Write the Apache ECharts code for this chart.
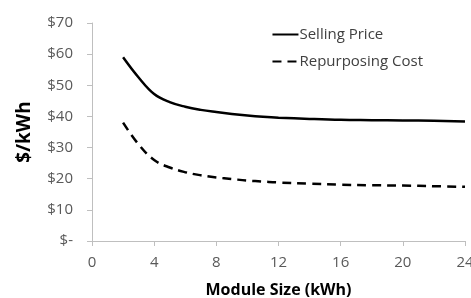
<!DOCTYPE html>
<html><head><meta charset="utf-8">
<script src="https://cdn.jsdelivr.net/npm/echarts@6/dist/echarts.min.js"></script>
<style>html,body{margin:0;padding:0;background:#fff}#c{width:471px;height:298px}</style>
</head><body><div id="c"></div>
<script>
var moduleSize = [2,3,4,5,6,7,8,9,10,11,12,14,16,18,20,22,24];
var sellingPrice = [59,52.5,47.2,44.6,43.1,42.1,41.4,40.8,40.3,39.9,39.6,39.2,38.9,38.8,38.7,38.6,38.4];
var repurposingCost = [38,31,26,23.6,22.1,21.1,20.4,19.9,19.4,19.1,18.8,18.4,18.1,17.9,17.8,17.6,17.4];
var yTicks = [0,10,20,30,40,50,60,70];
var xTicks = [0,4,8,12,16,20,24];

var font = 'Open Sans';
var chart = echarts.init(document.getElementById('c'));
chart.setOption({
  animation:false,
  backgroundColor:'#fff',
  grid:{left:92,right:6,top:23,bottom:57,containLabel:false,outerBoundsMode:'none'},
  legend:{
    right:43, top:22, orient:'vertical', itemWidth:26, itemHeight:14, itemGap:12,
    itemStyle:{opacity:0},
    textStyle:{fontFamily:font,fontSize:15,color:'#404040',padding:[0,0,0,-4]},
    data:['Selling Price','Repurposing Cost']
  },
  xAxis:{
    type:'value', min:0, max:24, interval:4,
    name:'Module Size (kWh)', nameLocation:'middle', nameGap:41,
    nameTextStyle:{fontFamily:font,fontSize:16,fontWeight:'bold',color:'#000'},
    axisLine:{lineStyle:{color:'#bfbfbf',width:1}},
    axisTick:{show:true,length:5,lineStyle:{color:'#bfbfbf'}},
    axisLabel:{fontFamily:font,fontSize:15,color:'#595959',margin:14},
    splitLine:{show:false}
  },
  yAxis:{
    type:'value', min:0, max:70, interval:10,
    name:'$/kWh', nameLocation:'middle', nameGap:58, nameRotate:90,
    nameTextStyle:{fontFamily:font,fontSize:19,fontWeight:'bold',color:'#000'},
    axisLine:{show:true,lineStyle:{color:'#bfbfbf',width:1}},
    axisTick:{show:true,length:5,lineStyle:{color:'#bfbfbf'}},
    axisLabel:{fontFamily:font,fontSize:15,color:'#595959',margin:19,
      formatter:function(v){return v===0?'$-':'$'+v;}},
    splitLine:{show:false}
  },
  series:[
    {name:'Selling Price',type:'line',smooth:0.4,symbol:'none',
     data:moduleSize.map(function(x,i){return [x,sellingPrice[i]];}),
     lineStyle:{color:'#000',width:2.5,type:'solid'},itemStyle:{color:'#000'}},
    {name:'Repurposing Cost',type:'line',smooth:0.4,symbol:'none',
     data:moduleSize.map(function(x,i){return [x,repurposingCost[i]];}),
     lineStyle:{color:'#000',width:2.5,type:[9,6]},itemStyle:{color:'#000'}}
  ]
});
</script></body></html>
